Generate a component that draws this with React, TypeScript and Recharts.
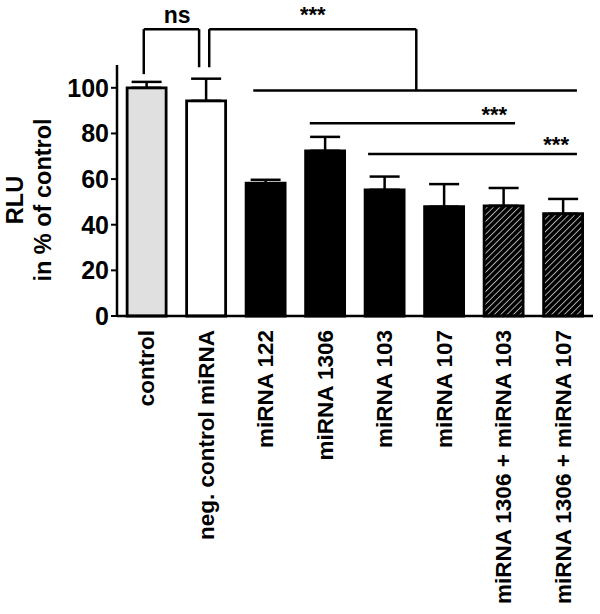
import { Bar, BarChart, Cell, ErrorBar, ReferenceDot, ReferenceLine, XAxis, YAxis } from "recharts";

const CATEGORIES = [
  "control",
  "neg. control miRNA",
  "miRNA 122",
  "miRNA 1306",
  "miRNA 103",
  "miRNA 107",
  "miRNA 1306 + miRNA 103",
  "miRNA 1306 + miRNA 107",
];
const MEANS = [100, 94.3, 58.2, 72.4, 55.3, 47.9, 48.3, 44.8];
const SEM = [2.6, 9.7, 1.5, 6.1, 5.8, 9.9, 7.8, 6.5];
const FILLS = ["#e0e0e0", "#ffffff", "#000000", "#000000", "#000000", "#000000", "url(#hatch)", "url(#hatch)"];
const Y_TICKS = [0, 20, 40, 60, 80, 100];

// significance brackets, x in category units (0..8), y in % of control
const BRACKETS: { x1: number; y1: number; x2: number; y2: number }[] = [
  { x1: 0.45, y1: 106, x2: 0.45, y2: 125.7 },
  { x1: 0.45, y1: 125.7, x2: 1.38, y2: 125.7 },
  { x1: 1.38, y1: 125.7, x2: 1.38, y2: 109 },
  { x1: 1.55, y1: 109, x2: 1.55, y2: 125.7 },
  { x1: 1.55, y1: 125.7, x2: 5.03, y2: 125.7 },
  { x1: 5.03, y1: 125.7, x2: 5.03, y2: 98.8 },
  { x1: 2.29, y1: 98.8, x2: 7.73, y2: 98.8 },
  { x1: 3.24, y1: 84.5, x2: 6.69, y2: 84.5 },
  { x1: 4.22, y1: 71, x2: 7.73, y2: 71 },
];
const MARKS: { x: number; y: number; text: string }[] = [
  { x: 1.01, y: 132, text: "ns" },
  { x: 3.29, y: 132, text: "***" },
  { x: 6.34, y: 88.5, text: "***" },
  { x: 7.38, y: 75, text: "***" },
];

const data = CATEGORIES.map((name, i) => ({ name, pos: i + 0.5, value: MEANS[i], err: [0, SEM[i]] }));

const FONT = "'Liberation Sans', Arial, sans-serif";

function XTick({ x, y, payload }: any) {
  return (
    <text
      transform={`translate(${x},${y + 6}) rotate(-90)`}
      textAnchor="end"
      dominantBaseline="central"
      fontFamily={FONT}
      fontWeight="bold"
      fontSize={22.5}
      fill="#000"
    >
      {payload.value}
    </text>
  );
}

function YTitle() {
  return (
    <g fontFamily={FONT} fontWeight="bold" fontSize={23.5} fill="#000" textAnchor="middle">
      <text transform="translate(15,200) rotate(-90)" dominantBaseline="central">
        RLU
      </text>
      <text transform="translate(43,200) rotate(-90)" dominantBaseline="central">
        in % of control
      </text>
    </g>
  );
}

function Mark({ viewBox, value }: any) {
  const cx = viewBox.x + (viewBox.width || 0) / 2;
  const cy = viewBox.y + (viewBox.height || 0) / 2;
  const ns = value === "ns";
  return (
    <text
      x={cx}
      y={cy}
      textAnchor="middle"
      dominantBaseline="central"
      fontFamily={FONT}
      fontWeight="bold"
      fontSize={ns ? 23 : 22}
      fill="#000"
    >
      {value}
    </text>
  );
}

export default function App() {
  return (
    <div style={{ position: "absolute", left: 0, top: 0, background: "#fff" }}>
      <BarChart
        width={600}
        height={614}
        data={data}
        margin={{ top: 65, right: 7, bottom: 8, left: 57 }}
        barCategoryGap="17%"
      >
        <defs>
          <pattern id="hatch" patternUnits="userSpaceOnUse" width="4.5" height="4.5" patternTransform="rotate(45)">
            <rect width="4.5" height="4.5" fill="#000" />
            <line x1="0" y1="0" x2="0" y2="4.5" stroke="#fff" strokeWidth="1.3" />
          </pattern>
        </defs>
        <XAxis
          dataKey="name"
          interval={0}
          height={290}
          tickLine={false}
          tick={<XTick />}
          axisLine={{ stroke: "#000", strokeWidth: 2.5 }}
        />
        <XAxis xAxisId="n" dataKey="pos" type="number" domain={[0, 8]} allowDataOverflow hide />
        <YAxis
          domain={[0, 110]}
          ticks={Y_TICKS}
          width={60}
          tickSize={6}
          tickMargin={2}
          axisLine={{ stroke: "#000", strokeWidth: 2.5 }}
          tickLine={{ stroke: "#000", strokeWidth: 2 }}
          tick={{ fontFamily: FONT, fontWeight: "bold", fontSize: 25, fill: "#000" }}
          label={{ content: <YTitle /> }}
        />
        <Bar dataKey="value" stroke="#000" strokeWidth={2.8} isAnimationActive={false}>
          {data.map((d, i) => (
            <Cell key={d.name} fill={FILLS[i]} />
          ))}
          <ErrorBar dataKey="err" width={15} stroke="#000" strokeWidth={2.5} direction="y" />
        </Bar>
        {BRACKETS.map((b, i) => (
          <ReferenceLine
            key={`b${i}`}
            xAxisId="n"
            segment={[
              { x: b.x1, y: b.y1 },
              { x: b.x2, y: b.y2 },
            ]}
            stroke="#000"
            strokeWidth={2.5}
            ifOverflow="visible"
          />
        ))}
        {MARKS.map((m, i) => (
          <ReferenceDot
            key={`m${i}`}
            xAxisId="n"
            x={m.x}
            y={m.y}
            r={0}
            stroke="none"
            fill="none"
            ifOverflow="visible"
            label={<Mark value={m.text} />}
          />
        ))}
      </BarChart>
    </div>
  );
}
